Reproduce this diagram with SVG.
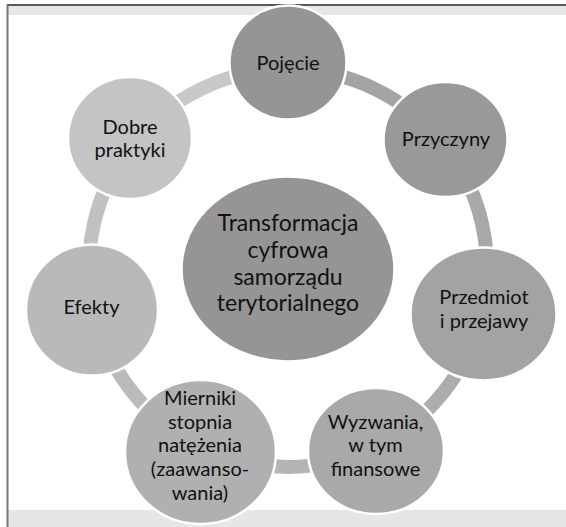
<svg xmlns="http://www.w3.org/2000/svg" width="566" height="527" viewBox="0 0 566 527">
<style>
.node{stroke:#ffffff;stroke-width:2.5}
.lbl{font-family:Lato,"Open Sans","Liberation Sans",sans-serif;font-size:20px;fill:#111111;text-anchor:middle}
.big{font-size:23px}
.arc{fill:none;stroke-width:14}
</style>
<rect x="0" y="0" width="566" height="527" fill="#ffffff"/>
<rect x="8" y="6" width="558" height="9" fill="#e6e6e6"/>
<rect x="8" y="510" width="558" height="17" fill="#e6e6e6"/>
<line x1="7" y1="5" x2="566" y2="5" stroke="#222222" stroke-width="1.5"/>
<line x1="7.5" y1="5" x2="7.5" y2="527" stroke="#777777" stroke-width="2"/>
<g id="connectors">
<path class="arc" stroke="#a4a4a4" d="M288 69 A199 199 0 0 1 443.6 143.9"/>
<path class="arc" stroke="#a8a8a8" d="M443.6 143.9 A199 199 0 0 1 482 312.3"/>
<path class="arc" stroke="#adadad" d="M482 312.3 A199 199 0 0 1 374.3 447.3"/>
<path class="arc" stroke="#b4b4b4" d="M374.3 447.3 A199 199 0 0 1 201.7 447.3"/>
<path class="arc" stroke="#bbbbbb" d="M201.7 447.3 A199 199 0 0 1 94 312.3"/>
<path class="arc" stroke="#c1c1c1" d="M94 312.3 A199 199 0 0 1 132.4 143.9"/>
<path class="arc" stroke="#c8c8c8" d="M132.4 143.9 A199 199 0 0 1 288 69"/>
</g>
<g id="center">
<ellipse class="node" cx="288" cy="269" rx="106.5" ry="92.5" fill="#959595"/>
<text class="lbl big" x="288" y="231">Transformacja</text>
<text class="lbl big" x="288" y="258">cyfrowa</text>
<text class="lbl big" x="288" y="285">samorządu</text>
<text class="lbl big" x="288" y="311">terytorialnego</text>
</g>
<g id="pojecie">
<ellipse class="node" cx="288" cy="62.5" rx="58.5" ry="57" fill="#959595"/>
<text class="lbl" x="288" y="70">Pojęcie</text>
</g>
<g id="przyczyny">
<ellipse class="node" cx="445.5" cy="139.5" rx="62" ry="57.5" fill="#999999"/>
<text class="lbl" x="446" y="145.5">Przyczyny</text>
</g>
<g id="przedmiot">
<ellipse class="node" cx="483.5" cy="314" rx="73" ry="66.5" fill="#a3a3a3"/>
<text class="lbl" x="484" y="304">Przedmiot</text>
<text class="lbl" x="484" y="327.5">i przejawy</text>
</g>
<g id="wyzwania">
<ellipse class="node" cx="376" cy="451" rx="68" ry="63" fill="#a9a9a9"/>
<text class="lbl" x="375.5" y="428.5">Wyzwania,</text>
<text class="lbl" x="375.5" y="452">w tym</text>
<text class="lbl" x="375.5" y="475.5">finansowe</text>
</g>
<g id="mierniki">
<ellipse class="node" cx="200.5" cy="452" rx="75.5" ry="72" fill="#b0b0b0"/>
<text class="lbl" x="200" y="404.5">Mierniki</text>
<text class="lbl" x="200" y="428.5">stopnia</text>
<text class="lbl" x="200" y="452">natężenia</text>
<text class="lbl" x="200" y="476">(zaawanso-</text>
<text class="lbl" x="200" y="500">wania)</text>
</g>
<g id="efekty">
<ellipse class="node" cx="92" cy="310" rx="66" ry="65.5" fill="#b9b9b9"/>
<text class="lbl" x="91.5" y="314">Efekty</text>
</g>
<g id="dobre">
<ellipse class="node" cx="130" cy="138" rx="62" ry="61" fill="#c4c4c4"/>
<text class="lbl" x="130" y="133.5">Dobre</text>
<text class="lbl" x="130" y="156.5">praktyki</text>
</g>
</svg>
